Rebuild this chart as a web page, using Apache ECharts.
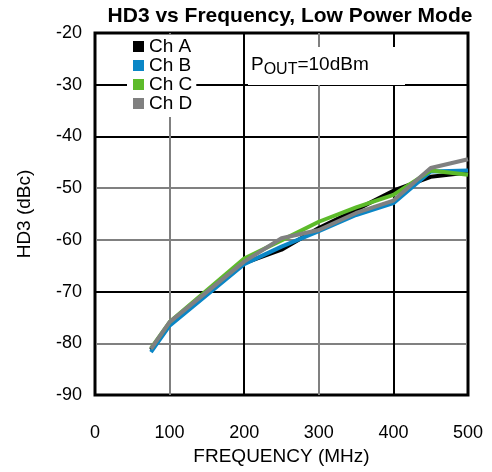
<!DOCTYPE html>
<html>
<head>
<meta charset="utf-8">
<script src="https://cdn.jsdelivr.net/npm/echarts@6/dist/echarts.min.js"></script>
<style>html,body{margin:0;padding:0;background:#fff}#c{width:492px;height:472px}</style>
</head>
<body>
<div id="c"></div>
<script>
const freqs = [75, 100, 200, 250, 300, 350, 400, 450, 500];
const chA = [-81.3, -76.4, -64.5, -61.9, -57.7, -54.2, -50.5, -47.8, -47.0];
const chB = [-81.7, -76.6, -64.7, -61.3, -58.3, -55.2, -52.9, -46.8, -46.6];
const chC = [-81.0, -75.9, -63.6, -60.1, -56.5, -53.7, -51.3, -46.6, -47.4];
const chD = [-81.1, -75.9, -64.2, -59.7, -58.1, -54.8, -52.4, -46.1, -44.4];
const seriesNames = ['Ch A', 'Ch B', 'Ch C', 'Ch D'];
const seriesColors = ['#000000', '#0a86c6', '#5dbb2a', '#808080'];
const seriesData = [chA, chB, chC, chD];

const FONT = '"Liberation Sans", Arial, sans-serif';
const chart = echarts.init(document.getElementById('c'));
chart.setOption({
  animation: false,
  backgroundColor: '#fff',
  title: {
    text: 'HD3 vs Frequency, Low Power Mode',
    left: 285, textAlign: 'center', top: 1,
    textStyle: { fontFamily: FONT, fontWeight: 'bold', fontSize: 21, color: '#000' }
  },
  grid: { left: 95, right: 24, top: 33, bottom: 77, show: true, borderColor: '#000', borderWidth: 3, backgroundColor: 'transparent' },
  legend: {
    data: seriesNames,
    orient: 'vertical', left: 127, top: 35,
    backgroundColor: '#fff',
    padding: [2, 4, 4, 6],
    itemWidth: 11, itemHeight: 11, itemGap: 0, itemTextGap: 4,
    icon: 'rect',
    textStyle: { fontFamily: FONT, fontSize: 19, color: '#000', lineHeight: 19 },
    z: 10
  },
  xAxis: {
    type: 'value', min: 0, max: 500, interval: 100,
    name: 'FREQUENCY (MHz)', nameLocation: 'middle', nameGap: 50,
    nameTextStyle: { fontFamily: FONT, fontSize: 19, color: '#000' },
    axisLine: { show: false }, axisTick: { show: false },
    axisLabel: { fontFamily: FONT, fontSize: 18, color: '#000', margin: 29 },
    splitLine: { show: true, lineStyle: { color: ['#000', '#808080', '#000', '#808080', '#000', '#000'], width: 2 } }
  },
  yAxis: {
    type: 'value', min: -90, max: -20, interval: 10,
    name: 'HD3 (dBc)', nameLocation: 'middle', nameGap: 61,
    nameTextStyle: { fontFamily: FONT, fontSize: 19, color: '#000' },
    axisLine: { show: false }, axisTick: { show: false },
    axisLabel: { fontFamily: FONT, fontSize: 18, color: '#000', margin: 13 },
    splitLine: { show: true, lineStyle: { color: ['#000', '#808080', '#000', '#808080', '#808080', '#000', '#000', '#000'], width: 2 } }
  },
  graphic: [
    { type: 'rect', left: 248, top: 47, z: 5, shape: { width: 157, height: 38 }, style: { fill: '#fff' } },
    { type: 'text', left: 251, top: 55, z: 6,
      style: {
        text: '{a|P}{b|OUT}{a|=10dBm}',
        rich: {
          a: { fontFamily: FONT, fontSize: 19, fill: '#000', verticalAlign: 'bottom', lineHeight: 24 },
          b: { fontFamily: FONT, fontSize: 16, fill: '#000', verticalAlign: 'bottom', padding: [0, 0, -4, 0], lineHeight: 24 }
        }
      }
    }
  ],
  series: seriesData.map((d, i) => ({
    name: seriesNames[i], type: 'line',
    data: freqs.map((f, j) => [f, d[j]]),
    symbol: 'none', z: 2 + i,
    itemStyle: { color: seriesColors[i] },
    lineStyle: { color: seriesColors[i], width: 4 }
  }))
});
</script>
</body>
</html>
